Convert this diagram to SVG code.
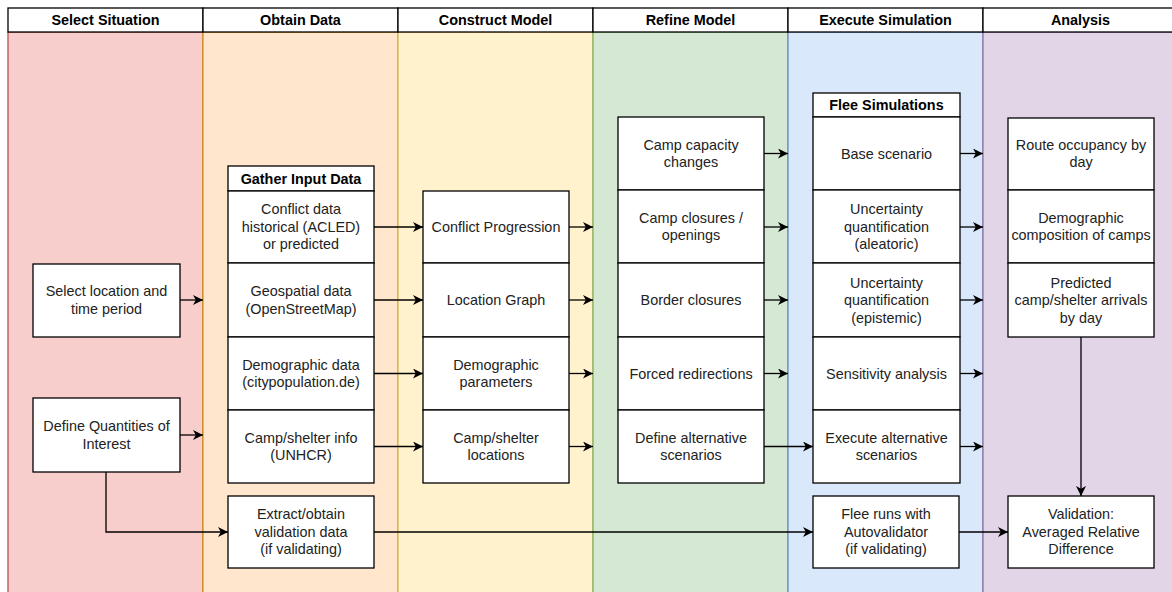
<svg xmlns="http://www.w3.org/2000/svg" width="1172" height="592" viewBox="0 0 1172 592">
<defs>
<marker id="arr" markerUnits="userSpaceOnUse" markerWidth="11" markerHeight="11" refX="10" refY="5" orient="auto">
<path d="M0,0 L10,5 L0,10 L2.8,5 Z" fill="#000"/>
</marker>
<style>
.hd{fill:#fff;stroke:#000;stroke-width:1.3}
.bx{fill:#fff;stroke:#000;stroke-width:1.3}
.t{font-family:"Liberation Sans",Arial,sans-serif;font-size:14.4px;fill:#222;text-anchor:middle}
.b{font-weight:bold;fill:#000}
.c{fill:none;stroke:#000;stroke-width:1.3;marker-end:url(#arr)}
</style>
</defs>
<g id="lanes">
<rect x="8" y="32" width="195" height="570" fill="#f8cecc" stroke="#b85450" stroke-width="1.3"/>
<rect x="203" y="32" width="195" height="570" fill="#ffe6cc" stroke="#d79b00" stroke-width="1.3"/>
<rect x="398" y="32" width="195" height="570" fill="#fff2cc" stroke="#d6b656" stroke-width="1.3"/>
<rect x="593" y="32" width="195" height="570" fill="#d5e8d4" stroke="#82b366" stroke-width="1.3"/>
<rect x="788" y="32" width="195" height="570" fill="#dae8fc" stroke="#6c8ebf" stroke-width="1.3"/>
<rect x="983" y="32" width="195" height="570" fill="#e1d5e7" stroke="#9673a6" stroke-width="1.3"/>
<rect class="hd" x="8" y="8" width="195" height="24"/>
<rect class="hd" x="203" y="8" width="195" height="24"/>
<rect class="hd" x="398" y="8" width="195" height="24"/>
<rect class="hd" x="593" y="8" width="195" height="24"/>
<rect class="hd" x="788" y="8" width="195" height="24"/>
<rect class="hd" x="983" y="8" width="195" height="24"/>
<text class="t b" x="105.5" y="25">Select Situation</text>
<text class="t b" x="300.5" y="25">Obtain Data</text>
<text class="t b" x="495.5" y="25">Construct Model</text>
<text class="t b" x="690.5" y="25">Refine Model</text>
<text class="t b" x="885.5" y="25">Execute Simulation</text>
<text class="t b" x="1080.5" y="25">Analysis</text>
</g>
<g id="connectors">
<path class="c" d="M180,300 H203"/>
<path class="c" d="M180,435 H203"/>
<path class="c" d="M106,472 V532 H228"/>
<path class="c" d="M374,227 H423"/>
<path class="c" d="M374,300 H423"/>
<path class="c" d="M374,373.5 H423"/>
<path class="c" d="M374,446.5 H423"/>
<path class="c" d="M569,227 H593"/>
<path class="c" d="M569,300 H593"/>
<path class="c" d="M569,373.5 H593"/>
<path class="c" d="M569,446.5 H593"/>
<path class="c" d="M764,153.5 H788"/>
<path class="c" d="M764,227 H788"/>
<path class="c" d="M764,300 H788"/>
<path class="c" d="M764,373.5 H788"/>
<path class="c" d="M764,446.5 H813"/>
<path class="c" d="M374,532 H813"/>
<path class="c" d="M960,153.5 H983"/>
<path class="c" d="M960,227 H983"/>
<path class="c" d="M960,300 H983"/>
<path class="c" d="M960,373.5 H983"/>
<path class="c" d="M960,446.5 H983"/>
<path class="c" d="M959,532 H1008"/>
<path class="c" d="M1081,337 V496"/>
</g>
<g id="select-location">
<rect class="bx" x="33" y="264" width="147" height="73"/>
<text class="t" x="106.5" y="296">Select location and</text>
<text class="t" x="106.5" y="313.5">time period</text>
</g>
<g id="define-qoi">
<rect class="bx" x="33" y="398" width="147" height="74"/>
<text class="t" x="106.5" y="431">Define Quantities of</text>
<text class="t" x="106.5" y="448.5">Interest</text>
</g>
<g id="gather-input-data">
<rect class="bx" x="228" y="166" width="146" height="25"/>
<text class="t b" x="301" y="183.5">Gather Input Data</text>
<rect class="bx" x="228" y="191" width="146" height="72"/>
<text class="t" x="301" y="214">Conflict data</text>
<text class="t" x="301" y="231.5">historical (ACLED)</text>
<text class="t" x="301" y="249">or predicted</text>
<rect class="bx" x="228" y="263" width="146" height="74"/>
<text class="t" x="301" y="296">Geospatial data</text>
<text class="t" x="301" y="313.5">(OpenStreetMap)</text>
<rect class="bx" x="228" y="337" width="146" height="73"/>
<text class="t" x="301" y="369.5">Demographic data</text>
<text class="t" x="301" y="387">(citypopulation.de)</text>
<rect class="bx" x="228" y="410" width="146" height="73"/>
<text class="t" x="301" y="442.5">Camp/shelter info</text>
<text class="t" x="301" y="460">(UNHCR)</text>
</g>
<g id="extract-validation">
<rect class="bx" x="228" y="496" width="146" height="72"/>
<text class="t" x="301" y="519">Extract/obtain</text>
<text class="t" x="301" y="536.5">validation data</text>
<text class="t" x="301" y="554">(if validating)</text>
</g>
<g id="construct-model">
<rect class="bx" x="423" y="191" width="146" height="72"/>
<text class="t" x="496" y="232">Conflict Progression</text>
<rect class="bx" x="423" y="263" width="146" height="74"/>
<text class="t" x="496" y="305">Location Graph</text>
<rect class="bx" x="423" y="337" width="146" height="73"/>
<text class="t" x="496" y="369.5">Demographic</text>
<text class="t" x="496" y="387">parameters</text>
<rect class="bx" x="423" y="410" width="146" height="73"/>
<text class="t" x="496" y="442.5">Camp/shelter</text>
<text class="t" x="496" y="460">locations</text>
</g>
<g id="refine-model">
<rect class="bx" x="618" y="117" width="146" height="73"/>
<text class="t" x="691" y="149.5">Camp capacity</text>
<text class="t" x="691" y="167">changes</text>
<rect class="bx" x="618" y="190" width="146" height="73"/>
<text class="t" x="691" y="222.5">Camp closures /</text>
<text class="t" x="691" y="240">openings</text>
<rect class="bx" x="618" y="263" width="146" height="74"/>
<text class="t" x="691" y="305">Border closures</text>
<rect class="bx" x="618" y="337" width="146" height="73"/>
<text class="t" x="691" y="378.5">Forced redirections</text>
<rect class="bx" x="618" y="410" width="146" height="73"/>
<text class="t" x="691" y="442.5">Define alternative</text>
<text class="t" x="691" y="460">scenarios</text>
</g>
<g id="flee-simulations">
<rect class="bx" x="813" y="93" width="147" height="24"/>
<text class="t b" x="886.5" y="110">Flee Simulations</text>
<rect class="bx" x="813" y="117" width="147" height="73"/>
<text class="t" x="886.5" y="158.5">Base scenario</text>
<rect class="bx" x="813" y="190" width="147" height="73"/>
<text class="t" x="886.5" y="214">Uncertainty</text>
<text class="t" x="886.5" y="231.5">quantification</text>
<text class="t" x="886.5" y="249">(aleatoric)</text>
<rect class="bx" x="813" y="263" width="147" height="74"/>
<text class="t" x="886.5" y="287.5">Uncertainty</text>
<text class="t" x="886.5" y="305">quantification</text>
<text class="t" x="886.5" y="322.5">(epistemic)</text>
<rect class="bx" x="813" y="337" width="147" height="73"/>
<text class="t" x="886.5" y="378.5">Sensitivity analysis</text>
</g>
<g id="execute-alternative">
<rect class="bx" x="813" y="410" width="147" height="73"/>
<text class="t" x="886.5" y="442.5">Execute alternative</text>
<text class="t" x="886.5" y="460">scenarios</text>
</g>
<g id="flee-autovalidator">
<rect class="bx" x="813" y="496" width="146" height="72"/>
<text class="t" x="886" y="519">Flee runs with</text>
<text class="t" x="886" y="536.5">Autovalidator</text>
<text class="t" x="886" y="554">(if validating)</text>
</g>
<g id="analysis-outputs">
<rect class="bx" x="1008" y="118" width="146" height="72"/>
<text class="t" x="1081" y="149.5">Route occupancy by</text>
<text class="t" x="1081" y="167">day</text>
<rect class="bx" x="1008" y="190" width="146" height="73"/>
<text class="t" x="1081" y="222.5">Demographic</text>
<text class="t" x="1081" y="240">composition of camps</text>
<rect class="bx" x="1008" y="263" width="146" height="74"/>
<text class="t" x="1081" y="287.5">Predicted</text>
<text class="t" x="1081" y="305">camp/shelter arrivals</text>
<text class="t" x="1081" y="322.5">by day</text>
</g>
<g id="validation">
<rect class="bx" x="1008" y="496" width="146" height="72"/>
<text class="t" x="1081" y="519">Validation:</text>
<text class="t" x="1081" y="536.5">Averaged Relative</text>
<text class="t" x="1081" y="554">Difference</text>
</g>
</svg>
